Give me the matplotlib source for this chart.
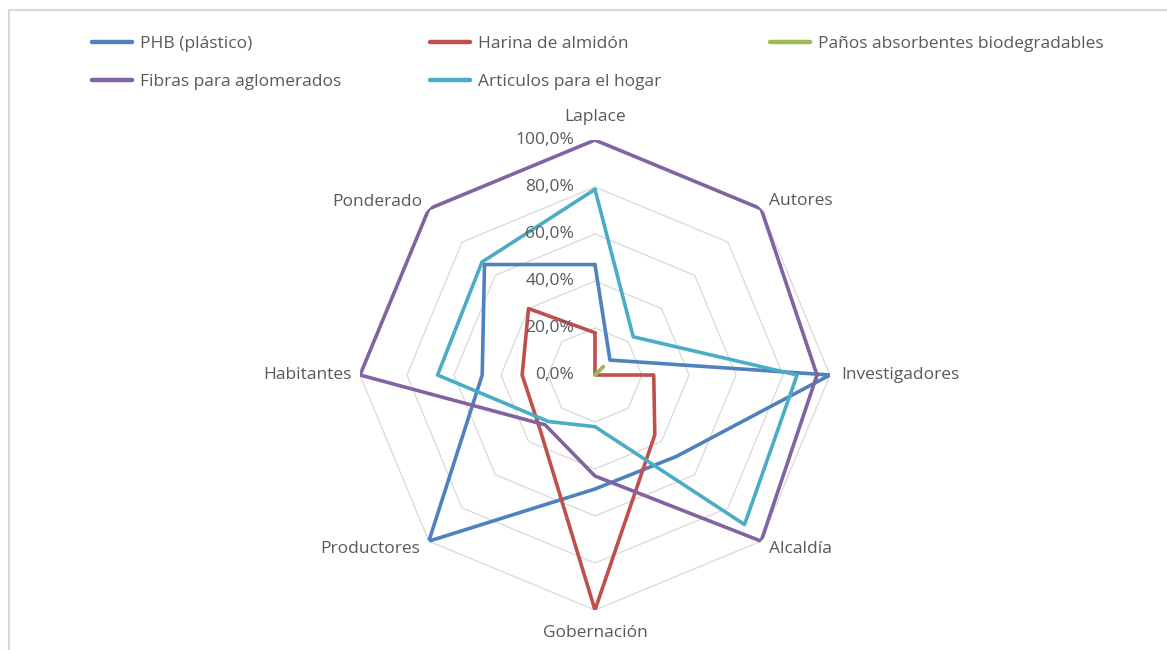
import matplotlib.pyplot as plt
import numpy as np
from matplotlib.lines import Line2D

plt.rcParams['font.family'] = ['Open Sans', 'DejaVu Sans']

categorias = ['Laplace', 'Autores', 'Investigadores', 'Alcaldía',
              'Gobernación', 'Productores', 'Habitantes', 'Ponderado']
phb = [47, 9, 100, 49, 48.5, 100, 48, 66.5]
harina = [18, 0, 25, 36, 100, 33, 31, 40]
panos = [0, 5, 0, 0, 0, 0, 0, 0]
fibras = [100, 100, 94.5, 100, 43, 30, 100, 100]
articulos = [79, 23, 86, 90, 22, 28, 67, 68]
niveles = [0, 20, 40, 60, 80, 100]

series = [('PHB (plástico)', phb, '#4F81BD'),
          ('Harina de almidón', harina, '#C0504D'),
          ('Paños absorbentes biodegradables', panos, '#9BBB59'),
          ('Fibras para aglomerados', fibras, '#8064A2'),
          ('Articulos para el hogar', articulos, '#4BACC6')]

gris = '#595959'
fs = 12.5
n = len(categorias)
theta = np.linspace(0, 2 * np.pi, n, endpoint=False)
theta_c = np.append(theta, theta[0])

fig = plt.figure(figsize=(11.67, 6.5), dpi=100)
ax = fig.add_axes([0.3085, 0.0615, 0.4027, 0.7231], projection='polar')
ax.set_theta_zero_location('N')
ax.set_theta_direction(-1)
ax.set_ylim(0, 100)
ax.grid(False)
ax.spines['polar'].set_visible(False)
ax.set_xticks([])
ax.set_yticks([])

# rejilla octogonal
for r in niveles[1:]:
    ax.plot(theta_c, [r] * (n + 1), color='#D9D9D9', lw=0.9, zorder=1)

handles = []
for nombre, vals, col in series:
    v = np.append(vals, vals[0])
    h, = ax.plot(theta_c, v, color=col, lw=2.6, solid_joinstyle='round',
                 solid_capstyle='round', zorder=3, label=nombre)
    handles.append(h)

# etiquetas del eje de valores
for r in niveles:
    ax.annotate(f'{r},0%', xy=(0, r), xytext=(-15, 0), textcoords='offset points',
                ha='right', va='center', fontsize=fs, color=gris, zorder=4)

# etiquetas de categorias
pos = [(1.10, 'center'), (1.05, 'left'), (1.05, 'left'), (1.05, 'left'),
       (1.10, 'center'), (1.05, 'right'), (1.035, 'right'), (1.04, 'right')]
for t, lab, (r, ha) in zip(theta, categorias, pos):
    ax.text(t, r * 100, lab, ha=ha, va='center', fontsize=fs, color=gris)

# leyenda en tres columnas
cols = [([handles[0], handles[3]], 0.0788),
        ([handles[1], handles[4]], 0.3685),
        ([handles[2]], 0.6598)]
for hs, x in cols:
    leg = fig.legend(handles=hs, loc='upper left', bbox_to_anchor=(x, 0.9455),
                     frameon=False, fontsize=fs, handlelength=2.3, handletextpad=0.46,
                     labelspacing=1.26, borderpad=0, borderaxespad=0)
    for txt in leg.get_texts():
        txt.set_color(gris)
    for ln in leg.get_lines():
        ln.set_linewidth(3.2)

# marco del grafico
fig.add_artist(Line2D([9 / 1167, 9 / 1167], [0, 1 - 10 / 650], color='#D9D9D9', lw=1.5))
fig.add_artist(Line2D([9 / 1167, 1], [1 - 10 / 650, 1 - 10 / 650], color='#D9D9D9', lw=1.5))

plt.savefig('out.png', dpi=100)
